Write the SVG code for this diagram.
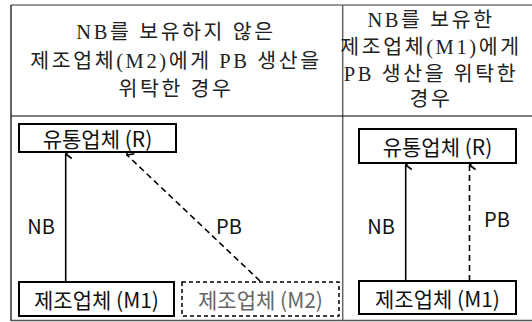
<svg xmlns="http://www.w3.org/2000/svg" width="532" height="322" viewBox="0 0 532 322">
<style>
.hdr{font-family:"Liberation Serif","Noto Sans CJK KR",serif;font-size:20.5px;letter-spacing:2.6px;fill:#222;text-anchor:middle}
.lbl{font-family:"Noto Sans CJK KR","Liberation Sans",sans-serif;font-size:21px;fill:#111;text-anchor:middle;dominant-baseline:central}
.el{font-family:"Noto Sans CJK KR","Liberation Sans",sans-serif;font-size:20px;fill:#111;text-anchor:middle;dominant-baseline:central}
.box{fill:#fff;stroke:#000;stroke-width:2}
.dbox{fill:#fff;stroke:#000;stroke-width:1.5;stroke-dasharray:4 3}
.ln{stroke:#000;stroke-width:1.6;fill:none}
.dl{stroke:#000;stroke-width:1.6;fill:none;stroke-dasharray:6 4}
</style>
<defs>
<marker id="ah" markerWidth="12" markerHeight="12" refX="6" refY="1" orient="auto-start-reverse" markerUnits="userSpaceOnUse" viewBox="0 0 12 12">
<path d="M1.5,7 L6,1 L10.5,7" fill="none" stroke="#000" stroke-width="1.7"/>
</marker>
</defs>
<rect width="532" height="322" fill="#fff"/>
<g id="table">
<line x1="11" y1="5" x2="532" y2="5" stroke="#777" stroke-width="1.5"/>
<line x1="11" y1="5" x2="11" y2="321" stroke="#333" stroke-width="1.5"/>
<line x1="11" y1="320.5" x2="532" y2="320.5" stroke="#555" stroke-width="1.5"/>
<line x1="342.7" y1="5" x2="342.7" y2="321" stroke="#666" stroke-width="1.5"/>
<line x1="11" y1="116" x2="532" y2="116" stroke="#000" stroke-width="1.2"/>
</g>
<g id="header-left">
<text class="hdr" x="176" y="39">NB를 보유하지 않은</text>
<text class="hdr" x="176" y="68">제조업체(M2)에게 PB 생산을</text>
<text class="hdr" x="176" y="96">위탁한 경우</text>
</g>
<g id="header-right">
<text class="hdr" x="431" y="27">NB를 보유한</text>
<text class="hdr" x="431" y="54">제조업체(M1)에게</text>
<text class="hdr" x="431" y="81">PB 생산을 위탁한</text>
<text class="hdr" x="431" y="106">경우</text>
</g>
<g id="connectors">
<line class="ln" x1="65.7" y1="282" x2="65.7" y2="154" marker-end="url(#ah)"/>
<line class="dl" x1="260" y1="281" x2="127" y2="155" marker-end="url(#ah)"/>
<line class="ln" x1="405.7" y1="281" x2="405.7" y2="165" marker-end="url(#ah)"/>
<line class="dl" x1="469.5" y1="281" x2="469.5" y2="165" marker-end="url(#ah)"/>
<text class="el" x="41" y="225">NB</text>
<text class="el" x="229" y="225">PB</text>
<text class="el" x="381" y="225">NB</text>
<text class="el" x="497" y="218">PB</text>
</g>
<g id="R-left">
<rect class="box" x="19" y="124" width="157" height="28"/>
<text class="lbl" x="97.5" y="138">유통업체 (R)</text>
</g>
<g id="M1-left">
<rect class="box" x="19" y="282" width="155" height="34"/>
<text class="lbl" x="96.5" y="299">제조업체 (M1)</text>
</g>
<g id="M2-left">
<rect class="dbox" x="182" y="282" width="157" height="34"/>
<text class="lbl" x="260.5" y="299" style="fill:#666">제조업체 (M2)</text>
</g>
<g id="R-right">
<rect class="box" x="359" y="129" width="157" height="34"/>
<text class="lbl" x="437.5" y="146">유통업체 (R)</text>
</g>
<g id="M1-right">
<rect class="box" x="359" y="281" width="157" height="33"/>
<text class="lbl" x="437.5" y="297.5">제조업체 (M1)</text>
</g>
</svg>
